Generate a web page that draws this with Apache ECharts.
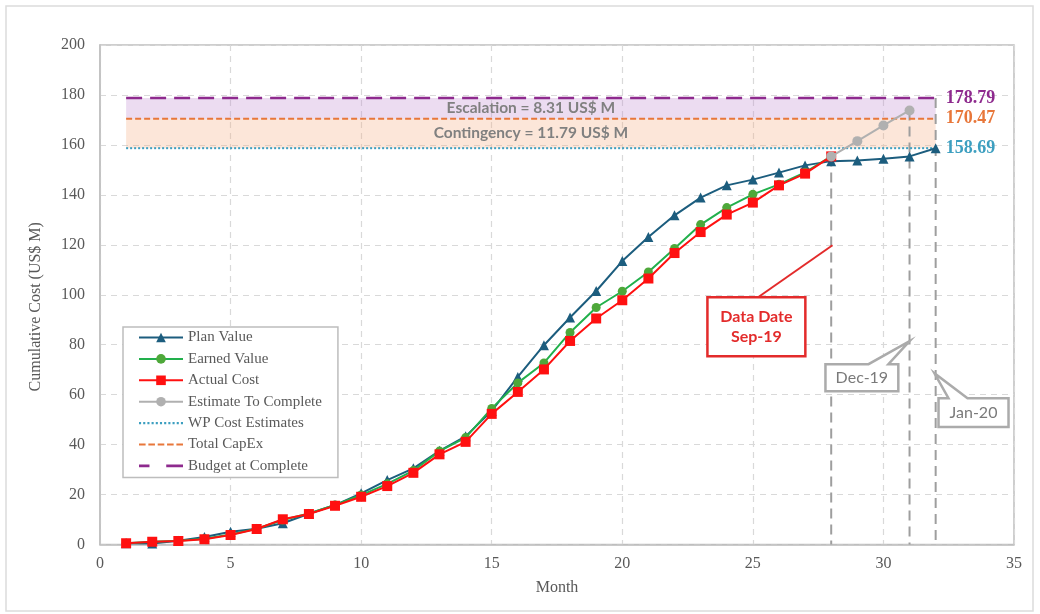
<!DOCTYPE html>
<html>
<head>
<meta charset="utf-8">
<script src="https://cdn.jsdelivr.net/npm/echarts@6/dist/echarts.min.js"></script>
<style>
html,body{margin:0;padding:0;background:#fff;}
#chart{width:1040px;height:614px;}
</style>
</head>
<body>
<div id="chart"></div>
<script>
// ---- data ----
const months = [1,2,3,4,5,6,7,8,9,10,11,12,13,14,15,16,17,18,19,20,21,22,23,24,25,26,27,28,29,30,31,32];
const planValue = [0.5,0.4,1.5,3,5.1,6.3,8.5,12.3,15.8,20.5,25.8,30.5,37.5,43.3,53.5,67.1,79.8,90.9,101.5,113.5,123.1,131.8,138.9,143.8,146.1,148.9,151.8,153.5,153.8,154.5,155.4,158.69];
const earnedValue = [0.5,1.1,1.5,2.3,4,6.3,9.8,12.4,15.8,19.8,24.3,29.6,37.4,42.8,54.5,64.7,72.7,84.9,94.9,101.4,109.1,118.5,128.1,134.9,140.2,144.2,149,155.4];
const actualCost = [0.5,1.1,1.4,2.1,3.8,6.2,10.1,12.2,15.5,19.1,23.4,28.7,36.1,41.1,52.3,61.1,70.1,81.5,90.5,97.8,106.5,116.7,125.1,132.1,136.9,143.8,148.5,155.4];
const etcMonths = [28,29,30,31];
const etcValues = [155.4,161.5,167.8,173.8];
const wpCost = 158.69;
const totalCapex = 170.47;
const budgetAtComplete = 178.79;
const levelStart = 1, levelEnd = 32;
const escalationText = 'Escalation = 8.31 US$ M';
const contingencyText = 'Contingency = 11.79 US$ M';
const xTicks = [0,5,10,15,20,25,30,35];
const yTicks = [0,20,40,60,80,100,120,140,160,180,200];
const markerMonths = [28,31,32];
const markerTops = [155.4,173.8,178.79];
const seriesNames = ['Plan Value','Earned Value','Actual Cost','Estimate To Complete','WP Cost Estimates','Total CapEx','Budget at Complete'];

// annotation callouts (data coordinates)
const callouts = [
  {text:'Data Date\nSep-19', box:[23.26,27.01,75.4,99], tip:[28.05,119.8], lineFrom:[25.2,99], color:'#e32b2b', bold:true},
  {text:'Dec-19', box:[27.78,30.57,61.4,72.2], tip:[31,81.4], wedge:[29.43,30.19], color:'#ababab', textColor:'#7a7a7a'},
  {text:'Jan-20', box:[32.11,34.79,47.0,58.6], tip:[31.95,68.6], wedge:[32.49,33.22], color:'#ababab', textColor:'#7a7a7a'}
];

const zip = (xs, ys) => xs.map((x,i)=>[x, ys[i]]);
const serif = '"Liberation Serif","Times New Roman",serif';
const sans = 'Lato, "Open Sans", sans-serif';

// legend icon paths for dashed/dotted lines (dash segments along a 42px strip)
function dashPath(segs, h) {
  return 'path://' + segs.map(([s,l])=>`M${s},0h${l}v${h}h${-l}z`).join(' ');
}
const dotSegs = []; for (let s=0; s<=40; s+=4) dotSegs.push([s,2]);
const dashSegs = []; for (let s=0; s<=36; s+=8.5) dashSegs.push([s,6]);
const legendIcons = {
  'WP Cost Estimates': dashPath(dotSegs, 2),
  'Total CapEx': dashPath(dashSegs, 2),
  'Budget at Complete': dashPath([[0,10],[26,16]], 2.5)
};

const chart = echarts.init(document.getElementById('chart'), null, {renderer:'canvas'});

function levelSeries(name, value, color, type, width) {
  return {
    name, type:'line', data:[[levelStart,value],[levelEnd,value]],
    symbol:'none', z:3,
    lineStyle:{color, type, width},
    itemStyle:{color},
    endLabel:{show:true, formatter:()=>value.toFixed(2), color, fontFamily:serif, fontWeight:'bold', fontSize:18, distance:10},
    silent:true
  };
}

const verticalSeries = markerMonths.map((m,i)=>({
  type:'line', data:[[m,markerTops[i]],[m,0]], symbol:'none', z:1, silent:true,
  lineStyle:{color:'#9e9e9e', width:2, type:[10,6]}
}));

const calloutSeries = {
  type:'custom', z:10, silent:true, clip:false,
  data: callouts.map((c,i)=>[i,0]),
  renderItem:function(params, api){
    const c = callouts[params.dataIndex];
    const [x0,x1,y0,y1] = c.box;
    const p = (x,y)=>api.coord([x,y]);
    const tl = p(x0,y1), br = p(x1,y0);
    const children = [];
    let pts;
    if (c.wedge) {
      pts = [tl, p(c.wedge[0],y1), p(c.tip[0],c.tip[1]), p(c.wedge[1],y1), [br[0],tl[1]], br, [tl[0],br[1]]];
    } else {
      pts = [tl,[br[0],tl[1]],br,[tl[0],br[1]]];
      const a = p(c.lineFrom[0],c.lineFrom[1]), b = p(c.tip[0],c.tip[1]);
      children.push({type:'line', shape:{x1:a[0],y1:a[1],x2:b[0],y2:b[1]}, style:{stroke:c.color, lineWidth:2}});
    }
    children.push({type:'polygon', shape:{points:pts}, style:{fill:'#fff', stroke:c.color, lineWidth:2.5}});
    children.push({type:'text', style:{x:(tl[0]+br[0])/2, y:(tl[1]+br[1])/2, text:c.text, align:'center', verticalAlign:'middle',
      fill:c.textColor||c.color, font:(c.bold?'bold ':'')+'16px '+sans, lineHeight:20}});
    return {type:'group', children};
  }
};

const option = {
  backgroundColor:'#fff',
  animation:false,
  graphic:[{type:'rect', shape:{x:6,y:6,width:1027,height:605}, style:{fill:'none', stroke:'#dcdcdc', lineWidth:1.5}, z:-1}],
  grid:{left:100, right:26, top:45, bottom:69.5, show:true, borderColor:'#bfbfbf', borderWidth:1.5},
  legend:{
    data:seriesNames.map(n=>legendIcons[n]?{name:n, icon:legendIcons[n]}:{name:n}),
    orient:'vertical', left:123, top:327,
    backgroundColor:'#fff', borderColor:'#bdbdbd', borderWidth:1.5,
    padding:[3,16,4,15], itemGap:6.4, itemWidth:44, itemHeight:12,
    textStyle:{fontFamily:serif, fontSize:15, color:'#595959'}
  },
  xAxis:{
    type:'value', min:0, max:35, interval:5,
    name:'Month', nameLocation:'middle', nameGap:35,
    nameTextStyle:{fontFamily:serif, fontSize:16, color:'#595959'},
    axisLine:{show:true, lineStyle:{color:'#bfbfbf', width:1.5}},
    axisTick:{show:false},
    axisLabel:{fontFamily:serif, fontSize:16, color:'#595959', margin:11,
      formatter:v=>xTicks.includes(v)?String(v):''},
    splitLine:{show:true, lineStyle:{color:'#d9d9d9', type:[6,5], width:1.2}}
  },
  yAxis:{
    type:'value', min:0, max:200, interval:20,
    name:'Cumulative Cost (US$ M)', nameLocation:'middle', nameGap:56,
    nameTextStyle:{fontFamily:serif, fontSize:16, color:'#595959', padding:[0,0,0,-24]},
    axisLine:{show:true, lineStyle:{color:'#bfbfbf', width:1.5}},
    axisTick:{show:false},
    axisLabel:{fontFamily:serif, fontSize:16, color:'#595959', margin:15,
      formatter:v=>yTicks.includes(v)?String(v):''},
    splitLine:{show:true, lineStyle:{color:'#d9d9d9', type:[6,5], width:1.2}}
  },
  series:[
    ...verticalSeries,
    Object.assign(levelSeries('WP Cost Estimates', wpCost, '#3d9fc0', 'dotted', 2), {
      markArea:{silent:true, data:[
        [{xAxis:levelStart, yAxis:wpCost, itemStyle:{color:'rgba(246,180,140,0.33)'},
          label:{show:true, position:'inside', formatter:contingencyText, fontFamily:sans, fontWeight:'bold', fontSize:15.5, color:'#808080'}},
         {xAxis:levelEnd, yAxis:totalCapex}],
        [{xAxis:levelStart, yAxis:totalCapex, itemStyle:{color:'rgba(196,150,214,0.33)'},
          label:{show:true, position:'inside', formatter:escalationText, fontFamily:sans, fontWeight:'bold', fontSize:15.5, color:'#808080'}},
         {xAxis:levelEnd, yAxis:budgetAtComplete}]
      ]}
    }),
    levelSeries('Total CapEx', totalCapex, '#e8773a', [6,3], 2),
    levelSeries('Budget at Complete', budgetAtComplete, '#8e2a8e', [16,8], 2.5),
    {name:'Plan Value', type:'line', data:zip(months, planValue), z:5,
      symbol:'triangle', symbolSize:10, lineStyle:{color:'#1c5d7e', width:2}, itemStyle:{color:'#1c5d7e'}},
    {name:'Earned Value', type:'line', data:zip(months, earnedValue), z:6,
      symbol:'circle', symbolSize:9, lineStyle:{color:'#22b04c', width:2}, itemStyle:{color:'#4ea83a'}},
    {name:'Actual Cost', type:'line', data:zip(months, actualCost), z:7,
      symbol:'rect', symbolSize:10, lineStyle:{color:'#ff1010', width:2}, itemStyle:{color:'#ff1010'}},
    {name:'Estimate To Complete', type:'line', data:zip(etcMonths, etcValues), z:8,
      symbol:'circle', symbolSize:10, lineStyle:{color:'#b0b0b0', width:2}, itemStyle:{color:'#b0b0b0'}},
    calloutSeries
  ]
};
chart.setOption(option);
</script>
</body>
</html>
